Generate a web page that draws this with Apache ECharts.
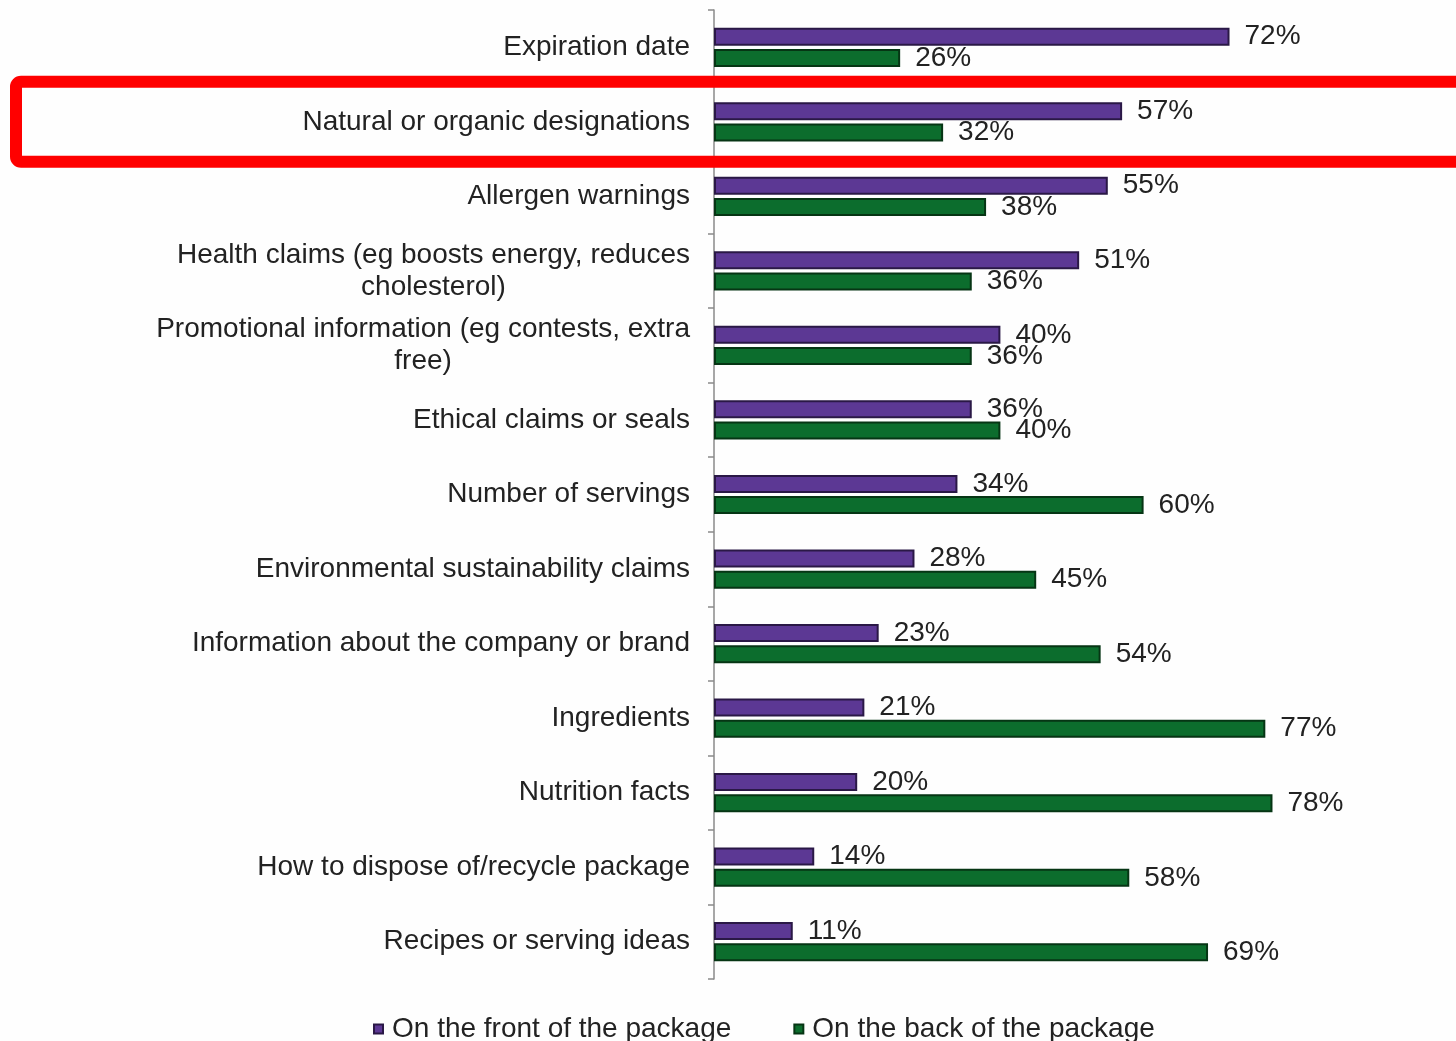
<!DOCTYPE html>
<html>
<head>
<meta charset="utf-8">
<script src="https://cdn.jsdelivr.net/npm/echarts@6/dist/echarts.min.js"></script>
<style>
  html, body { margin: 0; padding: 0; background: #fefefe; }
  #chart { width: 1456px; height: 1041px; }
</style>
</head>
<body>
<div id="chart"></div>
<script>
// Where shoppers look for each kind of package information
const categories = [
  'Expiration date',
  'Natural or organic designations',
  'Allergen warnings',
  'Health claims (eg boosts energy, reduces\ncholesterol)',
  'Promotional information (eg contests, extra\nfree)',
  'Ethical claims or seals',
  'Number of servings',
  'Environmental sustainability claims',
  'Information about the company or brand',
  'Ingredients',
  'Nutrition facts',
  'How to dispose of/recycle package',
  'Recipes or serving ideas'
];
const frontValues = [72, 57, 55, 51, 40, 36, 34, 28, 23, 21, 20, 14, 11];
const backValues = [26, 32, 38, 36, 36, 40, 60, 45, 54, 77, 78, 58, 69];
const seriesNames = ['On the front of the package', 'On the back of the package'];
const highlighted = 'Natural or organic designations';

const FONT = '"Liberation Sans", Arial, sans-serif';
const chart = echarts.init(document.getElementById('chart'), null, { renderer: 'canvas' });

const valueLabel = {
  show: true,
  position: 'right',
  distance: 15,
  formatter: '{c}%',
  fontFamily: FONT,
  fontSize: 28,
  color: '#222'
};

chart.setOption({
  backgroundColor: '#fefefe',
  animation: false,
  grid: { left: 714, right: 26, top: 10, bottom: 62, containLabel: false },
  xAxis: { type: 'value', min: 0, max: 100, show: false },
  yAxis: {
    type: 'category',
    data: categories,
    inverse: true,
    axisLine: { show: true, lineStyle: { color: '#8a8a8a', width: 1.5 } },
    axisTick: { show: true, length: 6, lineStyle: { color: '#8a8a8a', width: 1.5 } },
    splitLine: { show: false },
    axisLabel: {
      margin: 24,
      fontFamily: FONT,
      fontSize: 28,
      lineHeight: 32,
      color: '#222',
      formatter: function (v) {
        return v.split('\n').map(function (line) { return '{c|' + line + '}'; }).join('\n');
      },
      rich: {
        c: { align: 'center', fontFamily: FONT, fontSize: 28, lineHeight: 32, color: '#222' }
      }
    }
  },
  legend: {
    data: seriesNames,
    left: 368,
    top: 1010,
    icon: 'rect',
    itemWidth: 9,
    itemHeight: 9,
    itemGap: 62,
    textStyle: { fontFamily: FONT, fontSize: 28, color: '#222', padding: [0, 0, 0, 4] }
  },
  series: [
    {
      name: seriesNames[0],
      type: 'bar',
      data: frontValues,
      barWidth: 18,
      barGap: '18%',
      itemStyle: { color: '#5c3894', borderColor: '#2a1846', borderWidth: 2 },
      label: valueLabel
    },
    {
      name: seriesNames[1],
      type: 'bar',
      data: backValues,
      barWidth: 18,
      itemStyle: { color: '#0c6d2d', borderColor: '#063514', borderWidth: 2 },
      label: valueLabel
    }
  ]
});

// Red call-out frame around the highlighted category row
const rowY = chart.convertToPixel({ yAxisIndex: 0 }, highlighted);
chart.setOption({
  graphic: [{
    type: 'rect',
    z: 100,
    shape: { x: 16, y: rowY - 40, width: 1446, height: 80, r: 5 },
    style: { fill: 'none', stroke: '#ff0000', lineWidth: 12 }
  }]
});
</script>
</body>
</html>
